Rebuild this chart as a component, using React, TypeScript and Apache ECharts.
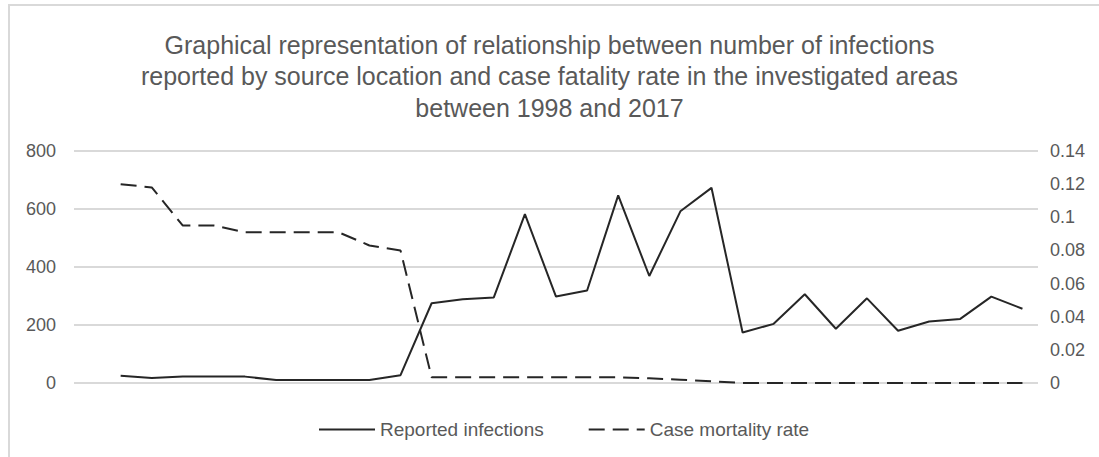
import React, { useEffect, useRef } from "react";
import * as echarts from "echarts";

const categories: string[] = Array.from({ length: 31 }, (_, i) => String(i));
const reportedInfections: (number | null)[] = [
  null, 25, 17, 22, 22, 22, 10, 10, 10, 10, 27,
  275, 289, 295, 582, 298, 319, 647, 369, 592, 673,
  174, 204, 306, 187, 292, 180, 212, 221, 298, 256,
];
const caseMortalityRate: (number | null)[] = [
  null, 0.12, 0.118, 0.095, 0.095, 0.091, 0.091, 0.091, 0.091, 0.083, 0.08,
  0.0035, 0.0035, 0.0035, 0.0035, 0.0035, 0.0035, 0.0035, 0.0028, 0.002, 0.001,
  0, 0, 0, 0, 0, 0, 0, 0, 0, 0,
];
const titleText =
  "Graphical representation of relationship between number of infections\nreported by source location and case fatality rate in the investigated areas\nbetween 1998 and 2017";
const seriesNames = ["Reported infections", "Case mortality rate"];

const FONT = "'Liberation Sans', Arial, sans-serif";
const GRAY = "#595959";

export default function App() {
  const ref = useRef<HTMLDivElement>(null);
  useEffect(() => {
    if (!ref.current) return;
    const chart = echarts.init(ref.current, undefined, { renderer: "svg" });
    chart.setOption({
      animation: false,
      backgroundColor: "#ffffff",
      textStyle: { fontFamily: FONT },
      title: {
        text: titleText,
        left: "center",
        top: 24,
        textStyle: {
          fontFamily: FONT,
          fontSize: 25,
          fontWeight: "normal",
          color: GRAY,
          lineHeight: 31.5,
          align: "center",
        },
      },
      graphic: [
        {
          type: "rect",
          shape: { x: 9, y: 5, width: 1200, height: 600 },
          style: { fill: "none", stroke: "#d9d9d9", lineWidth: 2 },
          silent: true,
        },
      ],
      legend: {
        left: 313,
        top: 415,
        itemWidth: 56,
        itemHeight: 14,
        itemGap: 44,
        itemStyle: { opacity: 0 },
        textStyle: { fontFamily: FONT, fontSize: 19, color: GRAY },
        data: seriesNames,
      },
      grid: { left: 74, right: 61, top: 151, bottom: 74 },
      xAxis: {
        type: "category",
        data: categories,
        boundaryGap: true,
        axisLine: { show: false },
        axisTick: { show: false },
        axisLabel: { show: false },
        splitLine: { show: false },
      },
      yAxis: [
        {
          type: "value",
          min: 0,
          max: 800,
          interval: 200,
          axisLine: { show: false },
          axisTick: { show: false },
          axisLabel: { color: GRAY, fontSize: 18, margin: 18, fontFamily: FONT },
          splitLine: { lineStyle: { color: "#d9d9d9", width: 2 } },
        },
        {
          type: "value",
          min: 0,
          max: 0.14,
          interval: 0.02,
          axisLine: { show: false },
          axisTick: { show: false },
          axisLabel: { color: GRAY, fontSize: 18, margin: 12, fontFamily: FONT },
          splitLine: { show: false },
        },
      ],
      series: [
        {
          name: seriesNames[0],
          type: "line",
          yAxisIndex: 0,
          data: reportedInfections,
          symbol: "none",
          color: "#262626",
          lineStyle: { color: "#262626", width: 2 },
        },
        {
          name: seriesNames[1],
          type: "line",
          yAxisIndex: 1,
          data: caseMortalityRate,
          symbol: "none",
          color: "#262626",
          lineStyle: { color: "#262626", width: 2, type: [16, 8] },
        },
      ],
    });
    return () => chart.dispose();
  }, []);
  return (
    <div
      ref={ref}
      style={{ position: "fixed", left: 0, top: 0, width: 1099, height: 457 }}
    />
  );
}
